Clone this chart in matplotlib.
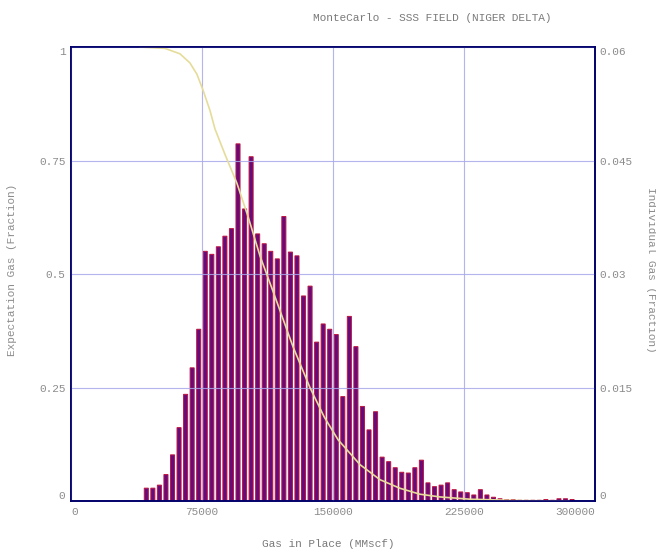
"""
Monte Carlo gas-in-place distribution: histogram + expectation curve.
"""

import numpy as np
import matplotlib
matplotlib.use("Agg")
import matplotlib.pyplot as plt

BIN_WIDTH = 3750
FIRST_BIN = 11
# individual (histogram) fraction per bin, starting at bin FIRST_BIN
bin_fraction = [
    0.0017, 0.0017, 0.0021, 0.0035, 0.0061, 0.0097, 0.0141, 0.0176, 0.0227, 0.0330,
    0.0326, 0.0336, 0.0350, 0.0360, 0.0472, 0.0386, 0.0455, 0.0353, 0.0340, 0.0330,
    0.0320, 0.0376, 0.0329, 0.0324, 0.0271, 0.0284, 0.0210, 0.0234, 0.0227, 0.0220,
    0.0138, 0.0244, 0.0204, 0.0125, 0.0094, 0.0118, 0.0058, 0.0052, 0.0044, 0.0038,
    0.0037, 0.0044, 0.0054, 0.0024, 0.0019, 0.0021, 0.0024, 0.0015, 0.0012, 0.0011,
    0.0008, 0.0015, 0.0008, 0.0005, 0.0003, 0.0002, 0.0002, 0.0001, 0.0001, 0.0001,
    0.0001, 0.0002, 0.0001, 0.0003, 0.0003, 0.0002,
]

# expectation (exceedance) curve
curve_x = [39500, 53800, 62400, 68100, 72100, 75600, 79600, 82400, 88000, 95000,
           101500, 108200, 116800, 127100, 136800, 145000, 152900, 165500, 176900,
           188400, 199800, 211300, 228400, 257000, 285000]
curve_y = [1.0, 0.997, 0.985, 0.965, 0.94, 0.905, 0.86, 0.82, 0.765, 0.70,
           0.625, 0.54, 0.45, 0.34, 0.25, 0.185, 0.135, 0.08, 0.047,
           0.028, 0.015, 0.009, 0.004, 0.001, 0.0]

x_ticks = [0, 75000, 150000, 225000, 300000]
left_ticks = [0, 0.25, 0.5, 0.75, 1]
left_labels = ["0", "0.25", "0.5", "0.75", "1"]
right_ticks = [0, 0.015, 0.03, 0.045, 0.06]
right_labels = ["0", "0.015", "0.03", "0.045", "0.06"]

MONO = "Liberation Mono"
GREY = "#8c8c8c"

fig = plt.figure(figsize=(6.56, 5.57), dpi=100)
ax = fig.add_axes([0.1082, 0.1005, 0.7988, 0.8151])
ax2 = ax.twinx()

# bars on the twin axis, drawn below the main axis
ax.set_zorder(ax2.get_zorder() + 1)
ax.patch.set_visible(False)
ax2.patch.set_facecolor("#03039a")

centers = (np.arange(len(bin_fraction)) + FIRST_BIN + 0.5) * BIN_WIDTH
bars = ax2.bar(centers, bin_fraction, width=BIN_WIDTH * 0.62,
               color="#650c7c", edgecolor="#c01440", linewidth=0.7)
for b in bars:
    b.set_snap(False)

ax.plot(curve_x, curve_y, color="#e6dc9a", linewidth=1.2)

ax.set_xlim(0, 300000)
ax.set_ylim(0, 1)
ax2.set_ylim(0, 0.06)

ax.set_xticks(x_ticks)
ax.set_xticklabels([str(v) for v in x_ticks], fontfamily=MONO, fontsize=8, color=GREY)
ax.set_yticks(left_ticks)
ax.set_yticklabels(left_labels, fontfamily=MONO, fontsize=8, color=GREY)
ax2.set_yticks(right_ticks)
ax2.set_yticklabels(right_labels, fontfamily=MONO, fontsize=8, color=GREY)

ax.tick_params(length=0, pad=4)
ax2.tick_params(length=0, pad=3)
ax.grid(True, color="#a8a8ea", linewidth=0.8, alpha=0.85)

# keep end labels inside the frame like the original
xl = ax.get_xticklabels()
xl[0].set_ha("left")
xl[-1].set_ha("right")
for labels in (ax.get_yticklabels(), ax2.get_yticklabels()):
    labels[0].set_va("bottom")
    labels[-1].set_va("top")

for a in (ax, ax2):
    for s in a.spines.values():
        s.set_color("#00006a")
        s.set_linewidth(1.2)

fig.text(0.659, 0.967, "MonteCarlo - SSS FIELD (NIGER DELTA)", ha="center", va="center",
         fontfamily=MONO, fontsize=8, color="#7a7a7a")
fig.text(0.5, 0.015, "Gas in Place (MMscf)", ha="center", va="bottom",
         fontfamily=MONO, fontsize=8, color="#7a7a7a")
fig.text(0.018, 0.515, "Expectation Gas (Fraction)", ha="center", va="center",
         rotation=90, fontfamily=MONO, fontsize=8, color=GREY)
fig.text(0.993, 0.515, "Individual Gas (Fraction)", ha="center", va="center",
         rotation=270, fontfamily=MONO, fontsize=8, color=GREY)

fig.savefig("out.png", dpi=100)
